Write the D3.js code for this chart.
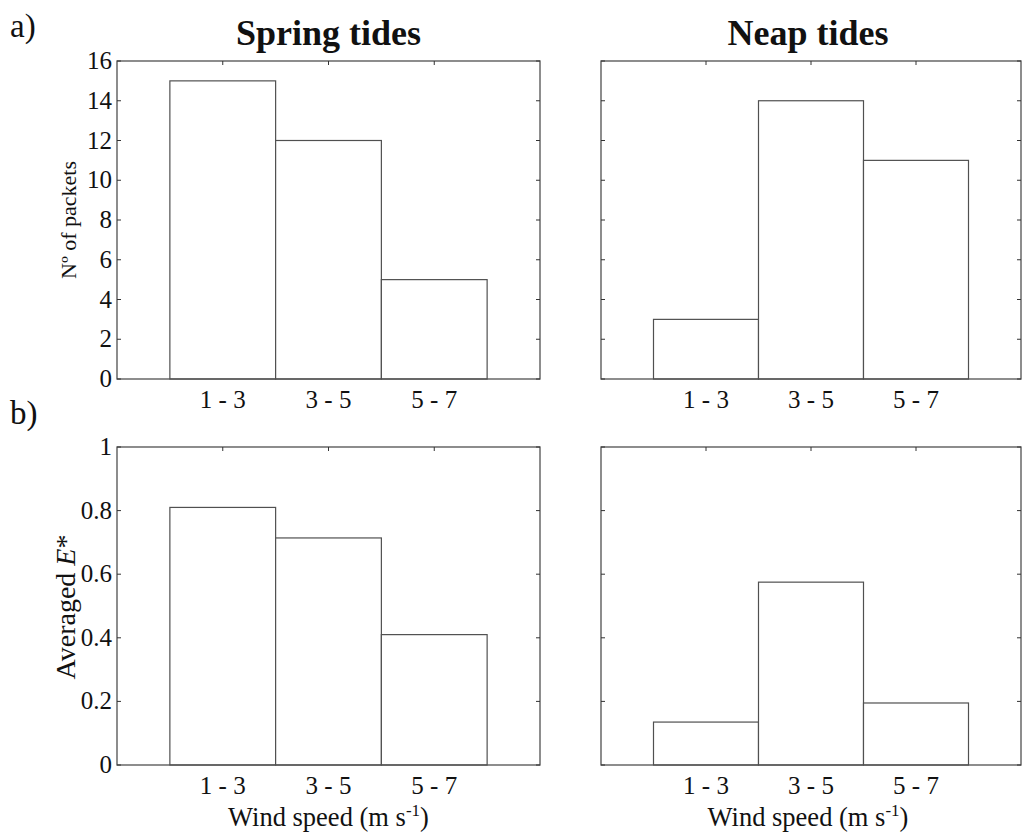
<!DOCTYPE html>
<html><head><meta charset="utf-8">
<script src="https://cdn.jsdelivr.net/npm/d3@7"></script>
<style>body{margin:0;background:#fff}svg{display:block}text{font-family:"Liberation Serif","Times New Roman",serif;fill:#111}</style>
</head><body><svg id="c" width="1022" height="840"></svg>
<script>
const categories = ["1 - 3", "3 - 5", "5 - 7"];
const springPackets = [15, 12, 5];
const neapPackets = [3, 14, 11];
const springE = [0.81, 0.714, 0.41];
const neapE = [0.135, 0.575, 0.195];
const packetTicks = [0, 2, 4, 6, 8, 10, 12, 14, 16];
const eTicks = [0, 0.2, 0.4, 0.6, 0.8, 1];
const titles = ["Spring tides", "Neap tides"];

const svg = d3.select("#c");
const cols = [{x0: 117, x1: 540}, {x0: 601, x1: 1021}];
const rows = [
  {y0: 61, y1: 379, max: 16, ticks: packetTicks, data: [springPackets, neapPackets], fmt: d => d},
  {y0: 447, y1: 765, max: 1, ticks: eTicks, data: [springE, neapE], fmt: d => d}
];
const lineCol = "#505050";

rows.forEach((r, ri) => {
  cols.forEach((c, ci) => {
    const x = d3.scaleLinear().domain([0, 4]).range([c.x0, c.x1]);
    const y = d3.scaleLinear().domain([0, r.max]).range([r.y1, r.y0]);
    const g = svg.append("g");
    const vals = r.data[ci];
    g.selectAll("rect").data(vals).join("rect")
      .attr("x", (d, i) => x(i + 0.5)).attr("width", (d, i) => x(i + 1.5) - x(i + 0.5))
      .attr("y", d => y(d)).attr("height", d => y(0) - y(d))
      .attr("fill", "#fff").attr("stroke", lineCol).attr("stroke-width", 1.2);
    g.append("rect").attr("x", c.x0).attr("y", r.y0).attr("width", c.x1 - c.x0).attr("height", r.y1 - r.y0)
      .attr("fill", "none").attr("stroke", lineCol).attr("stroke-width", 1.3);
    r.ticks.forEach(t => {
      g.append("line").attr("x1", c.x0).attr("x2", c.x0 + 4).attr("y1", y(t)).attr("y2", y(t)).attr("stroke", "#333");
      g.append("line").attr("x1", c.x1).attr("x2", c.x1 - 4).attr("y1", y(t)).attr("y2", y(t)).attr("stroke", "#333");
    });
    categories.forEach((cat, i) => {
      g.append("line").attr("x1", x(i + 1)).attr("x2", x(i + 1)).attr("y1", r.y0).attr("y2", r.y0 + 4).attr("stroke", "#333");
    });
    g.selectAll("text.xl").data(categories).join("text").attr("class", "xl")
      .attr("x", (d, i) => x(i + 1)).attr("y", r.y1 + 29).attr("text-anchor", "middle")
      .attr("font-size", 25).text(d => d);
    if (ci === 0) {
      g.selectAll("text.yl").data(r.ticks).join("text").attr("class", "yl")
        .attr("x", c.x0 - 5).attr("y", d => y(d) + 8).attr("text-anchor", "end")
        .attr("font-size", 25).text(r.fmt);
    }
    if (ri === 0) {
      svg.append("text").attr("x", (c.x0 + c.x1) / 2 - (ci === 1 ? 3 : 0)).attr("y", 45)
        .attr("text-anchor", "middle").attr("font-size", 36).attr("font-weight", "bold").text(titles[ci]);
    }
    if (ri === 1) {
      const t = svg.append("text").attr("x", (c.x0 + c.x1) / 2 - (ci === 1 ? 3 : 0)).attr("y", 826)
        .attr("text-anchor", "middle").attr("font-size", 26.5);
      t.append("tspan").text("Wind speed (m s");
      t.append("tspan").attr("dy", -10).attr("font-size", 17).text("-1");
      t.append("tspan").attr("dy", 10).text(")");
    }
  });
});

svg.append("text").attr("transform", "translate(76,220) rotate(-90)").attr("text-anchor", "middle")
  .attr("font-size", 22).text("Nº of packets");
const yl = svg.append("text").attr("transform", "translate(75,607) rotate(-90)").attr("text-anchor", "middle")
  .attr("font-size", 28);
yl.append("tspan").text("Averaged ");
yl.append("tspan").attr("font-style", "italic").text("E");
yl.append("tspan").text("*");

svg.append("text").attr("x", 10).attr("y", 37).attr("font-size", 33).text("a)");
svg.append("text").attr("x", 10).attr("y", 424).attr("font-size", 33).text("b)");
</script></body></html>
